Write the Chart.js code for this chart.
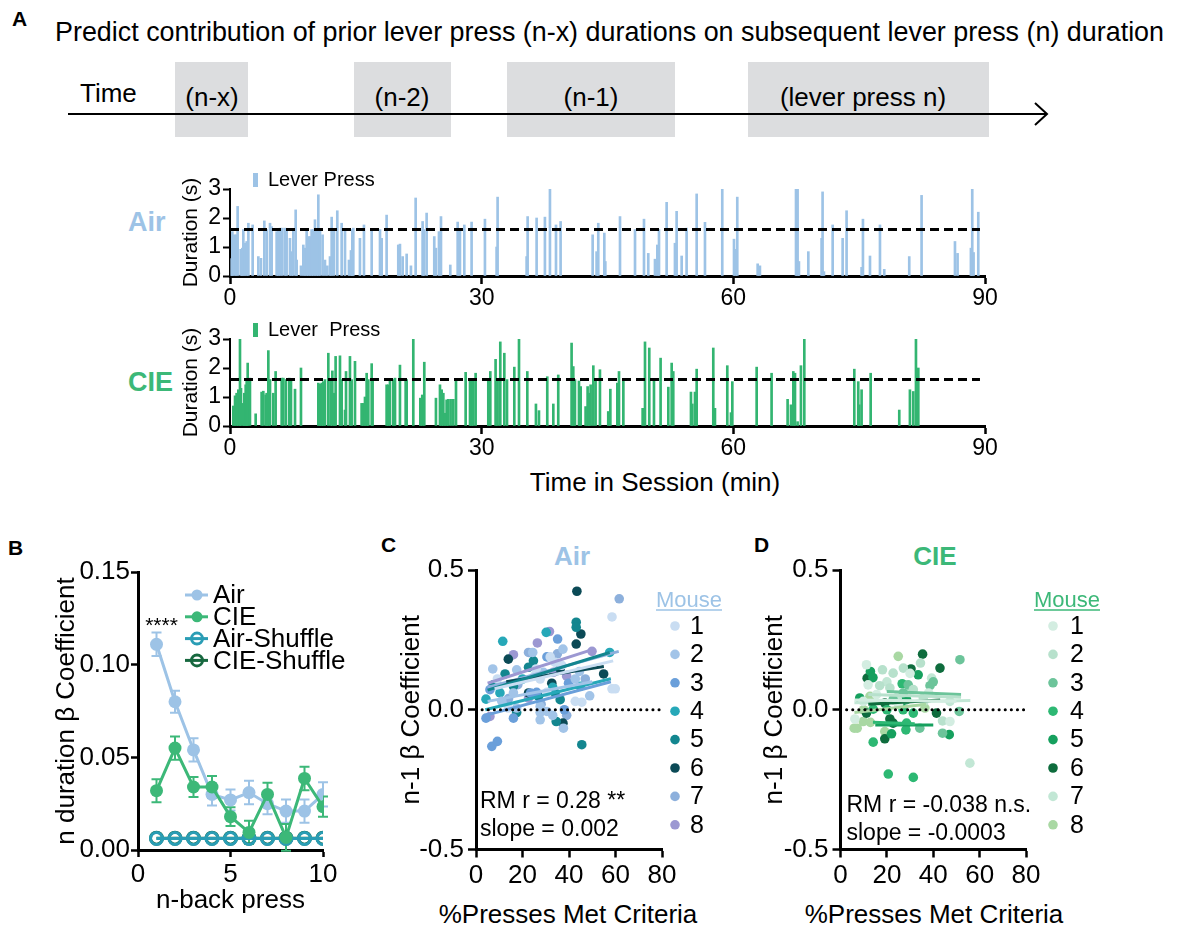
<!DOCTYPE html>
<html><head><meta charset="utf-8">
<script src="https://cdn.jsdelivr.net/npm/chart.js@4.4.1/dist/chart.umd.min.js"></script>
<style>
body{margin:0;background:#fff;width:1178px;height:929px;position:relative;overflow:hidden;font-family:'Liberation Sans',Arial,Helvetica,sans-serif;}
canvas{position:absolute;}
.t{position:absolute;white-space:nowrap;color:#000;line-height:1;}
.c{transform:translate(-50%,-50%);}
</style></head><body>
<div class="t" style="left:12px;top:8px;font-size:21px;font-weight:bold">A</div>
<div class="t" style="left:55px;top:19px;font-size:26.9px;">Predict contribution of prior lever press (n-x) durations on subsequent lever press (n) duration</div>
<svg style="position:absolute;left:0;top:0" width="1178" height="150" font-family="'Liberation Sans',Arial,sans-serif" font-size="26">
 <rect x="175" y="62" width="73" height="75" fill="#dcdddf"/>
 <rect x="354" y="62" width="97" height="75" fill="#dcdddf"/>
 <rect x="507" y="62" width="168" height="75" fill="#dcdddf"/>
 <rect x="748" y="62" width="241" height="75" fill="#dcdddf"/>
 <line x1="68" y1="114" x2="1046" y2="114" stroke="#000" stroke-width="2"/>
 <polyline points="1035,103 1047,114 1035,125" fill="none" stroke="#000" stroke-width="2"/>
 <text x="80" y="102">Time</text>
 <text x="212" y="106" text-anchor="middle">(n-x)</text>
 <text x="402" y="106" text-anchor="middle">(n-2)</text>
 <text x="591" y="106" text-anchor="middle">(n-1)</text>
 <text x="863" y="106" text-anchor="middle">(lever press n)</text>
</svg>
<div class="t" style="left:128px;top:209px;font-size:27px;font-weight:bold;color:#9dc3e6">Air</div>
<div class="t" style="left:128px;top:369px;font-size:27px;font-weight:bold;color:#3cb878">CIE</div>
<div class="t c" style="left:655px;top:482px;font-size:26px;">Time in Session (min)</div>
<div class="t" style="left:8px;top:537px;font-size:21px;font-weight:bold">B</div>
<div class="t" style="left:381px;top:534px;font-size:21px;font-weight:bold">C</div>
<div class="t" style="left:754px;top:534px;font-size:21px;font-weight:bold">D</div>
<div class="t c" style="left:572px;top:556px;font-size:26px;font-weight:bold;color:#9dc3e6">Air</div>
<div class="t c" style="left:935px;top:556px;font-size:26px;font-weight:bold;color:#3cb878">CIE</div>
<div class="t c" style="left:568px;top:914px;font-size:26px;">%Presses Met Criteria</div>
<div class="t c" style="left:934px;top:914px;font-size:26px;">%Presses Met Criteria</div>
<script>
// ---------- Panel A data ----------
const airTimes = [0.20,0.28,0.52,0.72,0.91,1.27,1.47,1.59,1.79,1.99,2.19,2.70,3.38,3.69,4.09,4.37,4.77,4.97,5.56,5.76,5.96,6.24,6.56,6.75,7.15,7.35,7.55,7.83,7.95,8.46,8.74,8.94,9.14,9.34,9.54,9.73,9.93,10.13,10.33,10.53,10.73,11.04,11.32,11.60,11.92,12.12,12.40,12.79,13.31,13.71,14.18,14.42,14.58,14.70,15.49,15.97,16.89,17.88,18.08,18.67,20.06,20.26,20.58,21.06,21.57,22.13,22.96,23.12,23.44,24.35,24.55,24.91,25.15,26.26,27.14,27.41,27.93,28.80,30.39,31.78,31.90,35.36,35.48,36.55,37.54,38.14,38.86,39.41,43.23,43.70,43.90,44.62,44.74,46.49,48.28,49.35,49.86,50.66,50.94,51.14,52.05,53.04,53.24,53.84,54.43,55.63,56.62,58.68,60.08,60.27,60.47,62.90,63.17,67.47,67.66,67.82,68.94,70.52,70.64,70.80,71.84,73.03,73.50,75.29,75.45,76.29,77.48,77.99,80.97,82.44,86.42,86.73,88.32,88.48,88.64,89.20];
const airDurations = [0.60,1.53,1.42,1.42,2.40,0.92,0.96,1.60,1.13,1.19,1.82,1.76,0.67,0.61,1.90,1.60,1.82,1.70,1.53,1.60,1.65,1.65,1.65,1.60,1.30,0.84,1.60,2.28,0.55,0.35,1.07,0.96,1.60,1.36,1.36,1.60,1.60,1.94,1.60,2.80,1.60,1.42,0.55,0.35,0.67,2.03,1.60,2.25,1.82,1.60,0.55,0.88,1.60,1.65,1.30,1.76,1.60,1.60,1.30,2.10,1.07,1.10,0.67,0.76,0.35,2.69,1.88,1.60,2.17,1.36,0.96,1.53,2.05,0.38,1.86,1.60,1.76,1.86,1.96,1.00,2.72,0.67,2.05,2.00,2.03,3.00,1.76,1.88,1.42,0.84,1.82,1.48,0.50,2.05,1.60,1.96,0.78,0.58,1.07,1.60,2.54,1.13,2.23,0.69,1.65,2.83,1.85,3.00,1.27,0.92,2.72,0.42,0.35,3.00,3.00,0.50,0.84,1.30,2.90,0.15,1.76,1.30,2.25,0.30,1.96,0.69,1.76,0.23,0.67,2.78,1.19,0.78,0.96,3.00,0.81,2.20];
const cieTimes = [0.40,0.60,0.79,0.99,1.19,1.31,1.59,1.71,1.87,1.99,2.11,2.38,3.06,3.77,3.97,4.25,4.37,4.57,4.77,5.16,5.44,6.16,6.36,6.67,7.07,7.27,7.75,8.46,10.53,10.73,10.93,11.12,11.32,11.72,12.00,12.20,12.44,12.59,13.11,13.31,13.71,13.83,14.30,14.50,14.90,15.69,15.89,16.09,16.29,16.49,16.89,17.00,18.67,18.87,19.07,19.47,19.67,20.26,20.94,21.06,21.85,22.69,22.92,23.16,24.55,25.03,25.23,25.43,25.63,25.82,26.02,26.30,26.62,26.94,28.09,28.61,28.80,29.00,29.28,30.79,31.03,31.66,31.90,32.22,32.70,33.02,33.89,34.45,35.44,36.47,36.83,37.82,38.54,39.13,40.72,40.92,41.12,41.60,41.80,42.39,42.63,42.79,42.99,43.31,43.58,44.10,45.09,45.34,46.17,46.37,46.89,49.19,49.47,49.98,50.54,51.33,52.25,52.65,52.84,54.95,55.11,55.43,55.63,57.61,57.81,59.28,59.72,59.88,62.78,64.56,66.47,66.87,67.15,67.35,67.66,68.06,68.46,74.42,74.89,75.01,75.29,76.37,79.78,81.05,81.45,81.77,82.05];
const cieDurations = [0.69,1.04,1.13,1.25,3.00,1.30,0.78,1.13,1.42,1.60,2.17,1.65,0.42,1.17,1.20,1.07,1.13,2.60,1.60,1.13,1.88,1.65,1.65,1.60,1.65,1.60,1.27,2.00,1.48,1.44,1.48,1.53,1.60,2.51,1.60,1.90,1.13,2.40,2.42,1.60,0.55,1.88,2.40,1.60,2.23,0.78,0.78,1.00,1.82,1.60,2.15,1.60,1.42,1.42,1.60,1.60,1.65,2.10,1.60,1.60,3.00,0.96,1.07,2.20,0.96,1.42,1.25,1.13,0.44,0.90,0.92,0.92,0.92,1.60,1.85,1.60,1.60,1.55,1.82,1.60,1.88,2.30,1.60,2.90,2.51,1.60,2.03,3.00,1.88,0.76,0.53,1.70,0.76,1.76,2.86,2.05,1.60,1.55,1.36,0.67,1.36,1.13,1.42,2.08,1.60,1.94,0.50,1.27,1.48,1.88,1.60,0.61,2.90,2.69,1.60,2.34,1.34,2.17,1.88,1.17,0.76,1.17,1.96,2.69,0.61,2.08,0.46,1.53,2.03,1.82,0.92,0.73,1.88,1.82,0.15,2.08,3.00,1.96,1.53,0.73,1.25,1.82,0.55,1.25,1.19,3.00,2.00];
const criterionDuration = 1.6;
const criterionSpan = [0, 89.4];
const sessionTicks = [0, 90, 30];   // min, max, step
const durationTicks = [0, 3, 1];

// ---------- Panel B data ----------
const nBack = [1,2,3,4,5,6,7,8,9,10];
const airBeta = [0.111,0.080,0.054,0.030,0.027,0.031,0.025,0.021,0.021,0.030];
const airSem  = [0.0063,0.0059,0.0063,0.0060,0.0057,0.0063,0.0057,0.0063,0.0063,0.0065];
const cieBeta = [0.032,0.055,0.034,0.034,0.018,0.0095,0.030,0.0068,0.0386,0.0234];
const cieSem  = [0.0062,0.0063,0.0054,0.0059,0.0050,0.0063,0.0063,0.0072,0.0063,0.0054];
const airShuffleBeta = [0.0062,0.0062,0.0062,0.0062,0.0062,0.0062,0.0062,0.0062,0.0062,0.0062];
const cieShuffleBeta = [0.0064,0.0064,0.0064,0.0064,0.0064,0.0064,0.0064,0.0064,0.0064,0.0064];
const seriesNamesB = ['Air','CIE','Air-Shuffle','CIE-Shuffle'];

// ---------- Panel C data (Air) : [%presses met criteria, n-1 beta] ----------
const airMouse1 = [[58.5,0.332],[31.9,0.189],[9.2,0.110],[25.9,0.146],[36.9,0.159],[25.3,0.122],[27.6,0.110],[30.5,0.062],[58.5,0.075],[59.9,0.075],[42.7,0.030],[45.5,0.027],[13.9,0.006],[34.0,0.170]];
const airMouse2 = [[37.4,0.217],[24.4,0.205],[7.2,0.146],[17.5,0.143],[29.0,0.134],[44.5,0.137],[42.7,0.110],[16.1,0.060],[48.9,0.050],[11.1,0.030],[17.5,0.006],[27.6,0.012],[27.6,-0.010],[30.5,-0.006],[27.6,-0.036],[37.6,-0.066],[33.0,-0.020]];
const airMouse3 = [[35.1,0.253],[30.5,0.189],[39.8,0.095],[6.0,0.072],[26.1,0.062],[4.3,-0.030],[16.1,-0.030],[6.8,-0.131],[9.2,-0.113],[23.5,0.060],[38.0,0.000]];
const airMouse4 = [[30.2,0.277],[11.5,0.245],[57.5,0.205],[44.8,0.084],[9.6,0.084],[10.3,0.060],[4.3,0.038],[20.0,0.110],[33.0,0.080]];
const airMouse5 = [[43.1,0.313],[43.1,0.295],[24.7,0.175],[12.5,0.128],[22.6,0.152],[7.5,0.089],[16.1,0.084],[26.9,0.048],[36.2,0.036],[34.5,-0.042],[45.5,-0.125],[34.0,0.060],[17.5,-0.010]];
const airMouse6 = [[43.4,0.424],[45.1,0.271],[43.1,0.235],[13.9,0.181],[36.2,0.146],[54.9,0.128],[22.6,0.060],[32.6,0.095],[37.4,-0.048]];
const airMouse7 = [[61.6,0.397],[22.6,0.205],[35.0,0.200],[18.0,0.090],[28.0,0.020],[39.0,-0.020],[47.0,0.110],[14.0,0.040]];
const airMouse8 = [[31.6,0.280],[26.4,0.239],[16.1,0.197],[49.9,0.209],[33.3,0.134],[22.6,0.042],[6.0,-0.024],[39.0,0.120]];
const airFitX0 = [8,5,4,4,5,13,5,5];
const airFitY0 = [0.075,0.030,-0.020,0.000,0.070,0.100,0.080,0.095];
const airFitX1 = [59,50,58,58,57.5,55,61.4,50];
const airFitY1 = [0.175,0.100,0.100,0.111,0.205,0.155,0.209,0.215];
const airStats = ['RM r = 0.28 **','slope = 0.002'];

// ---------- Panel D data (CIE) ----------
const cieMouse1 = [[11.2,0.161],[11.9,0.089],[15.5,0.054],[9.8,0.030],[6.2,-0.033],[47.2,-0.042],[30.0,0.130],[38.0,0.060],[25.0,0.020]];
const cieMouse2 = [[18.1,0.143],[22.7,0.131],[35.7,0.042],[44.0,-0.040],[21.3,0.078],[31.4,0.072],[16.9,0.086],[27.1,0.149],[34.5,0.167]];
const cieMouse3 = [[51.5,0.179],[29.2,0.089],[38.6,0.086],[27.1,0.060],[22.7,0.036],[51.2,-0.006],[34.2,-0.066],[44.0,-0.084],[40.0,0.100]];
const cieMouse4 = [[26.6,0.093],[31.4,-0.012],[14.1,0.002],[28.5,-0.048],[28.2,-0.072],[14.1,-0.116],[20.6,-0.230],[31.4,-0.242],[20.0,0.000],[27.0,0.000]];
const cieMouse5 = [[12.9,0.137],[33.5,0.125],[8.3,0.042],[28.5,0.036],[22.0,-0.086],[46.9,-0.089],[14.0,0.115],[26.0,0.020]];
const cieMouse6 = [[35.4,0.199],[42.9,0.149],[30.4,0.146],[11.5,0.113],[19.1,0.024],[41.4,-0.012],[11.2,-0.012],[21.3,-0.033],[22.7,-0.048],[19.1,-0.104]];
const cieMouse7 = [[39.3,0.113],[47.2,0.030],[55.8,-0.191],[30.0,0.070],[36.0,0.030],[25.0,0.050],[20.0,0.100]];
const cieMouse8 = [[24.9,0.191],[12.7,0.048],[36.4,0.006],[5.9,-0.066],[7.2,-0.066],[9.8,-0.042],[12.9,-0.045],[19.1,-0.078],[10.0,0.000]];
const cieFitX0 = [6,12,20,14,15,12,6,6];
const cieFitY0 = [0.035,0.055,0.065,-0.045,-0.055,0.020,0.025,-0.010];
const cieFitX1 = [50,52,52,32,40,43,56,37];
const cieFitY1 = [0.030,0.045,0.055,-0.050,-0.055,0.035,0.033,0.020];
const cieStats = ['RM r = -0.038 n.s.','slope = -0.0003'];
const mouseIds = ['1','2','3','4','5','6','7','8'];
const pctTicks = [0, 80, 20];
const betaTicks = [-0.5, 0.5, 0.5];

// ---------- styles ----------
const AIR = '#9dc3e6', CIE = '#3cb878', AIR_SH = '#2a9db5', CIE_SH = '#17683f';
const airMouseColors = ['#c9ddf2','#a2c4e8','#6a9fda','#26a8b8','#13868f','#0b4a56','#8db0dc','#9c98d2'];
const cieMouseColors = ['#d3ede1','#b7e1cc','#6cc49a','#2db873','#16a05e','#0e6c3d','#c2e7d5','#a9d8a3'];
const FONT = "'Liberation Sans', Arial, Helvetica, sans-serif";
Chart.defaults.font.family = FONT;
Chart.defaults.color = '#000';

function makeCanvas(left, top, w, h){
  const c = document.createElement('canvas');
  c.width = w; c.height = h;
  c.style.left = left+'px'; c.style.top = top+'px';
  c.style.width = w+'px'; c.style.height = h+'px';
  document.body.appendChild(c);
  return c;
}
function scale(o){
  return {
    type:'linear', position:o.pos, min:o.min, max:o.max, offset:false,
    ticks:{stepSize:o.step, font:{size:o.fs}, padding:o.tpad, color:'#000', autoSkip:false, maxRotation:0, callback:o.cb},
    grid:{display:true, offset:false, drawOnChartArea:false, drawTicks:true, tickLength:o.tl, tickColor:'#000', tickWidth:o.tw},
    border:{display:true, color:'#000', width:o.bw},
    title:{display:!!o.title, text:o.title||'', font:{size:o.tfs}, color:'#000', padding:o.titlePad||{top:0,bottom:0}},
    afterFit:o.fit
  };
}
const baseOpts = {responsive:false, maintainAspectRatio:false, devicePixelRatio:1, animation:false, events:[]};

// plugin: lever press legend
const leverLegend = {
  id:'leverLegend',
  afterDraw(chart, args, o){
    const ctx = chart.ctx, a = chart.chartArea;
    ctx.save();
    ctx.fillStyle = o.color;
    ctx.fillRect(a.left+23, a.top-16, 5, 14);
    ctx.fillStyle = '#000'; ctx.font = '20px '+FONT; ctx.textBaseline='middle'; ctx.textAlign='left';
    ctx.fillText(o.text, a.left+38, a.top-9);
    ctx.restore();
  }
};

function barChart(left, top, h, padTop, xh, times, durs, color, legendText){
  const c = makeCanvas(left, top, 840, h);
  new Chart(c, {
    type:'bar',
    data:{datasets:[
      {type:'line', data:criterionSpan.map(x=>({x:x, y:criterionDuration})), borderColor:'#000', borderWidth:3, borderDash:[9,5], pointRadius:0, order:0},
      {type:'bar', data:times.map((t,i)=>({x:t, y:durs[i]})), backgroundColor:color, barThickness:2, borderWidth:0, grouped:false, order:1}
    ]},
    options:Object.assign({}, baseOpts, {
      layout:{padding:{left:9, top:padTop, right:25, bottom:0}},
      plugins:{legend:{display:false}, tooltip:{enabled:false}, leverLegend:{color:color, text:legendText}},
      scales:{
        x:scale({pos:'bottom', min:sessionTicks[0], max:sessionTicks[1], step:sessionTicks[2], fs:23, tpad:1, tl:8, tw:2.5, bw:3, fit:s=>{s.height=xh;}}),
        y:scale({pos:'left', min:durationTicks[0], max:durationTicks[1], step:durationTicks[2], fs:23, tpad:2, tl:7, tw:2, bw:2, title:'Duration (s)', tfs:21, fit:s=>{s.width=51;}})
      }
    }),
    plugins:[leverLegend]
  });
}
barChart(170, 165, 145, 24, 34, airTimes, airDurations, AIR, 'Lever Press');
barChart(170, 315, 185, 24, 74, cieTimes, cieDurations, '#33b571', 'Lever  Press');

// ---------- Panel B ----------
const errorBars = {
  id:'errorBars',
  beforeDatasetsDraw(chart){
    const ctx = chart.ctx, xs = chart.scales.x, ys = chart.scales.y;
    chart.data.datasets.forEach(ds=>{
      if(!ds.errors) return;
      ctx.save(); ctx.strokeStyle = ds.borderColor; ctx.lineWidth = 2;
      ds.data.forEach((p,j)=>{
        const px = xs.getPixelForValue(p.x), e = ds.errors[j];
        const t = ys.getPixelForValue(p.y+e), b = ys.getPixelForValue(p.y-e);
        ctx.beginPath(); ctx.moveTo(px,t); ctx.lineTo(px,b);
        ctx.moveTo(px-5,t); ctx.lineTo(px+5,t); ctx.moveTo(px-5,b); ctx.lineTo(px+5,b); ctx.stroke();
      });
      ctx.restore();
    });
  }
};
const bLegend = {
  id:'bLegend',
  afterDraw(chart){
    const ctx = chart.ctx, a = chart.chartArea;
    ctx.save();
    ctx.font = '26px '+FONT; ctx.textBaseline='middle'; ctx.textAlign='left';
    chart.data.datasets.forEach((ds,i)=>{
      const y = a.top + 23 + i*21.8;
      const x0 = a.left + 47, x1 = a.left + 70, cx = a.left + 59;
      ctx.strokeStyle = ds.borderColor; ctx.lineWidth = 3;
      ctx.beginPath(); ctx.moveTo(x0,y); ctx.lineTo(x1,y); ctx.stroke();
      ctx.beginPath(); ctx.arc(cx,y,5.5,0,Math.PI*2);
      if(ds.pointBackgroundColor !== 'rgba(0,0,0,0)'){ ctx.fillStyle = ds.borderColor; ctx.fill(); } else { ctx.stroke(); }
      ctx.fillStyle = '#000';
      ctx.fillText(ds.label, a.left+75, y+1);
    });
    ctx.font = '21px '+FONT; ctx.textAlign='center';
    ctx.fillText('****', chart.scales.x.getPixelForValue(nBack[0])+5, chart.scales.y.getPixelForValue(airBeta[0]+airSem[0]) - 6);
    ctx.restore();
  }
};
function lineDs(label, vals, color, errs, open){
  return {label:label, data:nBack.map((x,i)=>({x:x, y:vals[i]})), errors:errs, borderColor:color,
    backgroundColor:color, pointBackgroundColor: open ? 'rgba(0,0,0,0)' : color, pointBorderColor:color,
    pointRadius: open ? 6 : 6.5, pointBorderWidth: open ? 3 : 0, borderWidth:3, tension:0};
}
new Chart(makeCanvas(0, 540, 375, 389), {
  type:'line',
  data:{datasets:[
    lineDs(seriesNamesB[0], airBeta, AIR, airSem, false),
    lineDs(seriesNamesB[1], cieBeta, CIE, cieSem, false),
    lineDs(seriesNamesB[2], airShuffleBeta, AIR_SH, null, true),
    lineDs(seriesNamesB[3], cieShuffleBeta, CIE_SH, null, true)
  ].map((d,i)=>Object.assign(d,{order:[2,1,3,4][i]}))},
  options:Object.assign({}, baseOpts, {
    layout:{padding:{left:51, top:32, right:52, bottom:0}},
    plugins:{legend:{display:false}, tooltip:{enabled:false}},
    scales:{
      x:scale({pos:'bottom', min:0, max:10, step:5, fs:26, tpad:2, tl:7, tw:2.5, bw:3, title:'n-back press', tfs:26, titlePad:{top:0,bottom:13}, fit:s=>{s.height=79;}}),
      y:scale({pos:'left', min:0, max:0.15, step:0.05, fs:26, tpad:1, tl:7, tw:2.5, bw:3, title:'n duration \u03b2 Coefficient', tfs:26, cb:v=>v.toFixed(2), fit:s=>{s.width=87;}})
    }
  }),
  plugins:[errorBars, bLegend]
});

// ---------- Panels C & D ----------
const mouseLegend = {
  id:'mouseLegend',
  afterDraw(chart, args, o){
    const ctx = chart.ctx, a = chart.chartArea;
    ctx.save();
    ctx.font = '22px '+FONT; ctx.textAlign='center'; ctx.textBaseline='middle';
    ctx.fillStyle = o.titleColor;
    const mx = a.right + o.titleDx, my = a.top + 31;
    ctx.fillText('Mouse', mx, my);
    const w = ctx.measureText('Mouse').width;
    ctx.strokeStyle = o.titleColor; ctx.lineWidth = 1.5;
    ctx.beginPath(); ctx.moveTo(mx-w/2, my+9); ctx.lineTo(mx+w/2, my+9); ctx.stroke();
    ctx.font = '25px '+FONT; ctx.textAlign='left';
    mouseIds.forEach((id,i)=>{
      const y = a.top + 56 + i*28.4;
      ctx.fillStyle = o.colors[i];
      ctx.beginPath(); ctx.arc(a.right + o.dotDx, y, 4.8, 0, Math.PI*2); ctx.fill();
      ctx.fillStyle = '#000';
      ctx.fillText(id, a.right + o.numDx, y+1);
    });
    ctx.font = '23px '+FONT; ctx.textAlign='left';
    o.stats.forEach((s,i)=>{ ctx.fillText(s, a.left + o.statDx, a.top + o.statDy + i*28); });
    ctx.restore();
  }
};
function scatterPanel(left, width, padLeft, yw, padRight, mice, colors, fx0, fy0, fx1, fy1, stats, legendOpts){
  const ds = [];
  ds.push({type:'line', data:[{x:pctTicks[0],y:0},{x:pctTicks[1],y:0}], borderColor:'#000', borderWidth:3, borderDash:[0.1,6], borderCapStyle:'round', pointRadius:0, order:0});
  fx0.forEach((x0,i)=>ds.push({type:'line', data:[{x:x0,y:fy0[i]},{x:fx1[i],y:fy1[i]}], borderColor:colors[i], borderWidth:3, pointRadius:0, order:1}));
  mice.forEach((pts,i)=>ds.push({type:'scatter', label:'Mouse '+mouseIds[i], data:pts.map(p=>({x:p[0],y:p[1]})), backgroundColor:colors[i], pointRadius:4.8, pointBorderWidth:0, order:2}));
  new Chart(makeCanvas(left, 540, width, 389), {
    type:'scatter',
    data:{datasets:ds},
    options:Object.assign({}, baseOpts, {
      layout:{padding:{left:padLeft, top:30, right:padRight, bottom:0}},
      plugins:{legend:{display:false}, tooltip:{enabled:false}, mouseLegend:Object.assign({colors:colors, stats:stats}, legendOpts)},
      scales:{
        x:scale({pos:'bottom', min:pctTicks[0], max:pctTicks[1], step:pctTicks[2], fs:26, tpad:3, tl:8, tw:2.5, bw:3, fit:s=>{s.height=79.5;}}),
        y:scale({pos:'left', min:betaTicks[0], max:betaTicks[1], step:betaTicks[2], fs:26, tpad:4, tl:8, tw:2.5, bw:3, title:'n-1 \u03b2 Coefficient', tfs:26, cb:v=>v.toFixed(1), fit:s=>{s.width=yw;}})
      }
    }),
    plugins:[mouseLegend]
  });
}
scatterPanel(380, 365, 16, 80, 83,
  [airMouse1,airMouse2,airMouse3,airMouse4,airMouse5,airMouse6,airMouse7,airMouse8], airMouseColors,
  airFitX0, airFitY0, airFitX1, airFitY1, airStats,
  {titleColor:AIR, titleDx:27, dotDx:13, numDx:28, statDx:4, statDy:232});
scatterPanel(755, 370, 4.5, 81, 99,
  [cieMouse1,cieMouse2,cieMouse3,cieMouse4,cieMouse5,cieMouse6,cieMouse7,cieMouse8], cieMouseColors,
  cieFitX0, cieFitY0, cieFitX1, cieFitY1, cieStats,
  {titleColor:CIE, titleDx:41, dotDx:27, numDx:44, statDx:6, statDy:236});
</script>
</body></html>
